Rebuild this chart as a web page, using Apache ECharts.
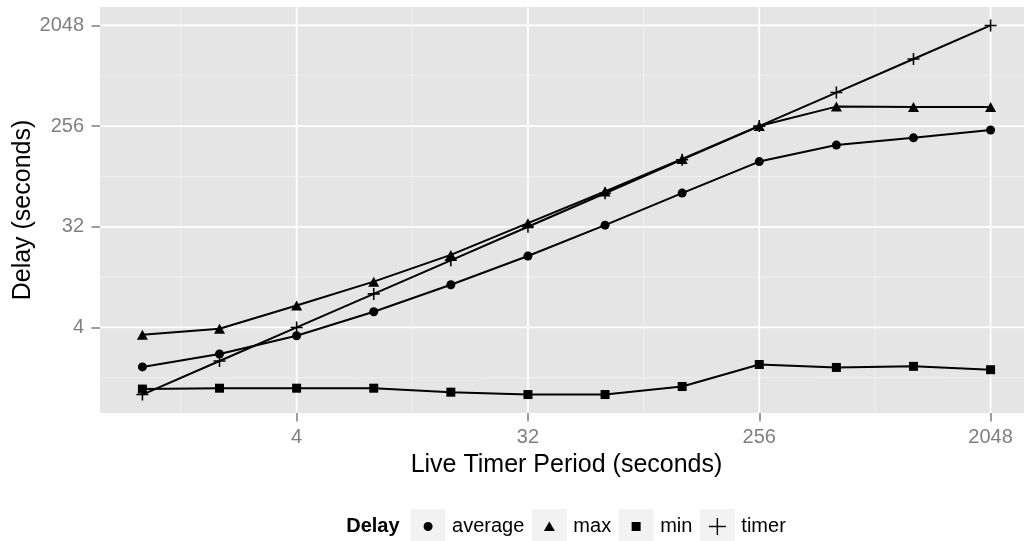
<!DOCTYPE html>
<html>
<head>
<meta charset="utf-8">
<title>Delay vs Live Timer Period</title>
<script src="https://cdn.jsdelivr.net/npm/echarts@6/dist/echarts.min.js"></script>
<style>
  html, body { margin: 0; padding: 0; background: #ffffff; }
  #chart { width: 1024px; height: 541px; }
</style>
</head>
<body>
<div id="chart"></div>
<script>
// Live timer period (seconds), one entry per measurement
const periods = [1, 2, 4, 8, 16, 32, 64, 128, 256, 512, 1024, 2048];

// Observed delay (seconds) for each period
const delayAverage = [1.77, 2.31, 3.37, 5.53, 9.66, 17.5, 33.1, 64.2, 123, 173, 201, 236];
const delayMax     = [3.44, 3.89, 6.30, 10.3, 17.9, 34.5, 66.3, 130, 257, 383, 379, 379];
const delayMin     = [1.12, 1.14, 1.14, 1.14, 1.05, 1.00, 1.00, 1.18, 1.86, 1.75, 1.79, 1.67];
const delayTimer   = [1, 2, 4, 8, 16, 32, 64, 128, 256, 512, 1024, 2048];

// Axis tick labels (same breaks on both log2 axes)
const tickLabels = ['4', '32', '256', '2048'];

const seriesNames = ['average', 'max', 'min', 'timer'];
const legendTitle = 'Delay';
const xTitle = 'Live Timer Period (seconds)';
const yTitle = 'Delay (seconds)';

const FONT = '"Liberation Sans", Arial, Helvetica, sans-serif';
const GREY50 = '#7F7F7F';

// Both axes are drawn in log2 space
const majorTicks = tickLabels.map(t => Math.log2(Number(t)));
const minorTicks = majorTicks.map(v => v - 1.5);
const axisMin = -0.55, axisMax = 11.55;

function toLog(values) {
  return periods.map((p, i) => [Math.log2(p), Math.log2(values[i])]);
}

const plusPath = 'path://M4.35,0H5.65V4.35H10V5.65H5.65V10H4.35V5.65H0V4.35H4.35Z';

const symbolFor = {
  average: { symbol: 'circle', size: 9 },
  max: { symbol: 'triangle', size: [11, 10] },
  min: { symbol: 'rect', size: 9 },
  timer: { symbol: plusPath, size: 12 }
};
const valuesFor = { average: delayAverage, max: delayMax, min: delayMin, timer: delayTimer };

// Panel grid lines: [orientation (0 = vertical, 1 = horizontal), value, major flag]
const gridLineData = [];
minorTicks.forEach(v => { gridLineData.push([0, v, 0]); gridLineData.push([1, v, 0]); });
majorTicks.forEach(v => { gridLineData.push([0, v, 1]); gridLineData.push([1, v, 1]); });

function renderGridLine(params, api) {
  const cs = params.coordSys;
  const vertical = api.value(0) === 0;
  const v = api.value(1);
  const major = api.value(2) === 1;
  let shape;
  if (vertical) {
    const px = api.coord([v, axisMin])[0];
    shape = { x1: px, y1: cs.y, x2: px, y2: cs.y + cs.height };
  } else {
    const py = api.coord([axisMin, v])[1];
    shape = { x1: cs.x, y1: py, x2: cs.x + cs.width, y2: py };
  }
  return {
    type: 'line',
    shape: shape,
    style: { stroke: major ? '#ffffff' : '#F2F2F2', lineWidth: major ? 1.7 : 0.9 }
  };
}

const dataSeries = seriesNames.map(name => ({
  name: name,
  type: 'line',
  z: 3,
  data: toLog(valuesFor[name]),
  symbol: symbolFor[name].symbol,
  symbolSize: symbolFor[name].size,
  showSymbol: true,
  lineStyle: { color: '#000000', width: 2 },
  itemStyle: { color: '#000000' },
  emphasis: { disabled: true }
}));

// Legend: grey key boxes with the marker, centred under the panel
const measureCtx = document.createElement('canvas').getContext('2d');
function textWidth(txt, font) { measureCtx.font = font; return measureCtx.measureText(txt).width; }

const legendFont = '20px ' + FONT;
const legendTitleFont = 'bold 20px ' + FONT;
const keySize = 35;
const legendCenterX = 566;
const legendKeyTop = 509;
const legendMidY = legendKeyTop + keySize / 2;

function legendMarker(name, cx, cy) {
  if (name === 'average') return { type: 'circle', shape: { cx: cx, cy: cy, r: 4.5 }, style: { fill: '#000' } };
  if (name === 'max') return { type: 'polygon', shape: { points: [[cx - 5.5, cy + 4.5], [cx + 5.5, cy + 4.5], [cx, cy - 5]] }, style: { fill: '#000' } };
  if (name === 'min') return { type: 'rect', shape: { x: cx - 4.5, y: cy - 4.5, width: 9, height: 9 }, style: { fill: '#000' } };
  return { type: 'group', children: [
    { type: 'rect', shape: { x: cx - 8.5, y: cy - 0.7, width: 17, height: 1.4 }, style: { fill: '#000' } },
    { type: 'rect', shape: { x: cx - 0.7, y: cy - 8.5, width: 1.4, height: 17 }, style: { fill: '#000' } }
  ] };
}

const legendItems = [];
let cursor = 0;
legendItems.push({ type: 'text', x: cursor, y: legendMidY, style: { text: legendTitle, font: legendTitleFont, fill: '#000', textVerticalAlign: 'middle' } });
cursor += textWidth(legendTitle, legendTitleFont) + 11;
seriesNames.forEach((name, i) => {
  legendItems.push({ type: 'rect', shape: { x: cursor, y: legendKeyTop, width: keySize, height: keySize }, style: { fill: '#F2F2F2' } });
  legendItems.push(legendMarker(name, cursor + keySize / 2, legendMidY));
  cursor += keySize + 6.5;
  legendItems.push({ type: 'text', x: cursor, y: legendMidY, style: { text: name, font: legendFont, fill: '#000', textVerticalAlign: 'middle' } });
  cursor += textWidth(name, legendFont);
  if (i < seriesNames.length - 1) cursor += 7.5;
});
const legendOffset = legendCenterX - cursor / 2;

const tickFormatter = v => tickLabels[majorTicks.findIndex(m => Math.abs(m - v) < 1e-6)];

const chart = echarts.init(document.getElementById('chart'), null, { renderer: 'canvas' });
chart.setOption({
  animation: false,
  backgroundColor: '#ffffff',
  textStyle: { fontFamily: FONT },
  grid: {
    left: 100, top: 7, right: -9, bottom: 128,
    show: true, backgroundColor: '#E5E5E5', borderWidth: 0,
    containLabel: false,
    outerBoundsMode: 'none'
  },
  xAxis: {
    type: 'value', min: axisMin, max: axisMax,
    name: xTitle, nameLocation: 'middle', nameGap: 40, nameMoveOverlap: false,
    nameTextStyle: { color: '#000', fontSize: 25, fontFamily: FONT },
    axisLine: { show: false, onZero: false },
    axisTick: { show: true, length: 8.5, lineStyle: { color: GREY50, width: 1.5 }, customValues: majorTicks },
    axisLabel: { show: true, customValues: majorTicks, margin: 14, color: GREY50, fontSize: 20, fontFamily: FONT, formatter: tickFormatter },
    splitLine: { show: false }
  },
  yAxis: {
    type: 'value', min: axisMin, max: axisMax,
    name: yTitle, nameLocation: 'middle', nameGap: 64, nameRotate: 90, nameMoveOverlap: false,
    nameTextStyle: { color: '#000', fontSize: 25, fontFamily: FONT },
    axisLine: { show: false, onZero: false },
    axisTick: { show: true, length: 8.5, lineStyle: { color: GREY50, width: 1.5 }, customValues: majorTicks },
    axisLabel: { show: true, customValues: majorTicks, margin: 16, color: GREY50, fontSize: 20, fontFamily: FONT, formatter: tickFormatter },
    splitLine: { show: false }
  },
  series: [
    {
      name: 'panel grid',
      type: 'custom',
      z: 1,
      silent: true,
      clip: false,
      data: gridLineData,
      renderItem: renderGridLine
    }
  ].concat(dataSeries),
  graphic: [{ type: 'group', x: legendOffset, y: 0, children: legendItems }]
});
</script>
</body>
</html>
